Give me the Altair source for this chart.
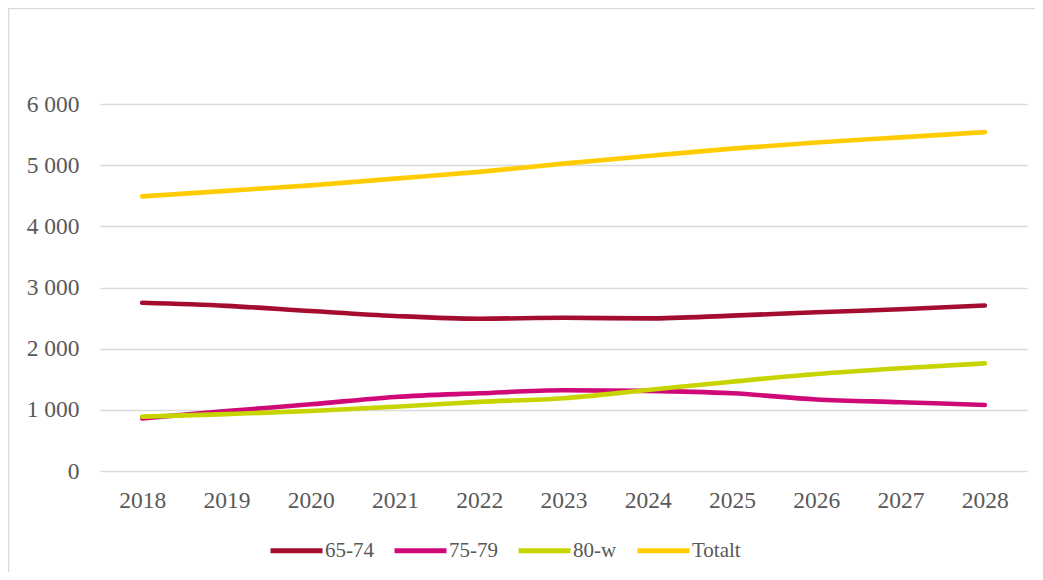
import altair as alt
import pandas as pd

years = [str(y) for y in range(2018, 2029)]
series_names = ["65-74", "75-79", "80-w", "Totalt"]
v_65_74 = [2750, 2700, 2615, 2535, 2490, 2505, 2495, 2540, 2595, 2645, 2705]
v_75_79 = [860, 980, 1090, 1210, 1270, 1320, 1310, 1270, 1170, 1125, 1080]
v_80_w = [888, 930, 980, 1050, 1130, 1190, 1325, 1460, 1585, 1680, 1760]
v_totalt = [4490, 4580, 4670, 4780, 4890, 5025, 5150, 5270, 5370, 5455, 5540]
colors = ["#A50D30", "#CF0A78", "#C8D400", "#FFCC00"]
y_ticks = [0, 1000, 2000, 3000, 4000, 5000, 6000]

rows = []
for name, vals in zip(series_names, [v_65_74, v_75_79, v_80_w, v_totalt]):
    for yr, v in zip(years, vals):
        rows.append({"Year": yr, "Series": name, "Value": v})
df = pd.DataFrame(rows)

W, H = 927, 367
FONT = "Liberation Serif"
TXT = "#595959"

lines = alt.Chart(df).mark_line(
    strokeWidth=4.6, strokeCap="round", strokeJoin="round", interpolate="monotone"
).encode(
    x=alt.X("Year:O", sort=years,
            scale=alt.Scale(type="point", padding=0.5),
            axis=alt.Axis(title=None, labelAngle=0, domain=False, ticks=False,
                          tickSize=0, labelPadding=17, grid=False,
                          labelFont=FONT, labelFontSize=23.5, labelColor=TXT)),
    y=alt.Y("Value:Q", scale=alt.Scale(domain=[0, 6000], nice=False),
            axis=alt.Axis(title=None, values=y_ticks, domain=False, ticks=False,
                          tickSize=0, labelPadding=21, grid=True,
                          gridColor="#D9D9D9", gridWidth=1.3,
                          labelExpr="replace(format(datum.value, ','), ',', ' ')",
                          labelFont=FONT, labelFontSize=23.5, labelColor=TXT)),
    color=alt.Color("Series:N", sort=series_names,
                    scale=alt.Scale(domain=series_names, range=colors),
                    legend=alt.Legend(title=None, orient="none", direction="horizontal",
                                      legendX=168, legendY=418,
                                      symbolType="stroke", symbolSize=2704,
                                      symbolStrokeWidth=5, labelOffset=0,
                                      columnPadding=10,
                                      labelFont=FONT, labelFontSize=21,
                                      labelColor=TXT)),
)

frame = alt.Chart(pd.DataFrame({"k": [0]})).mark_rect(
    fill=None, fillOpacity=0, stroke="#D9D9D9", strokeWidth=1.5
).encode(
    x=alt.value(-91.5), x2=alt.value(W + 60),
    y=alt.value(-95.5), y2=alt.value(H + 160),
)

chart = alt.layer(frame, lines).properties(
    width=W, height=H,
    autosize=alt.AutoSizeParams(type="none"),
    padding={"left": 92, "top": 96, "right": 8, "bottom": 101},
).configure_view(stroke=None)

chart.save("out.html", embed_options={"renderer": "svg", "actions": False})
